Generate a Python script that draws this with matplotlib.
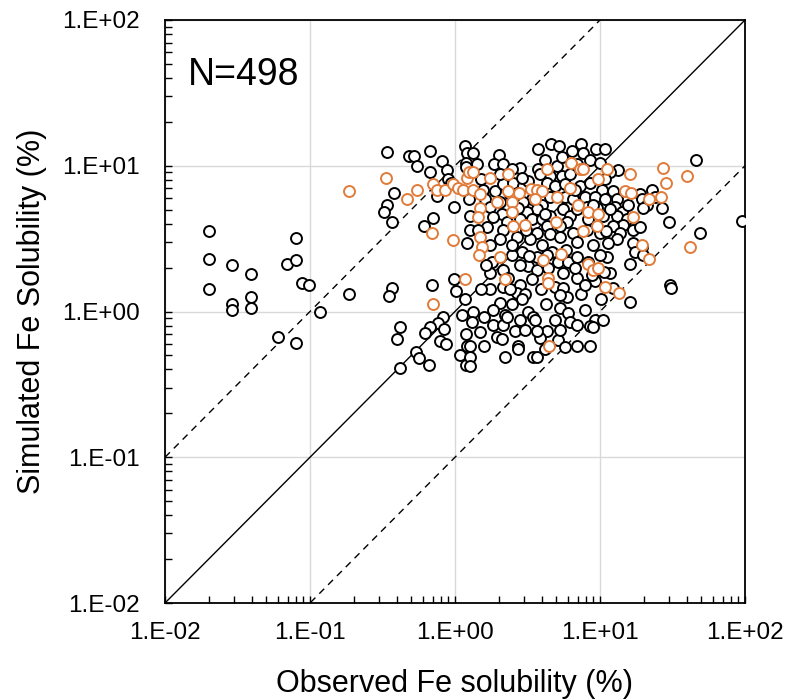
import numpy as np
import matplotlib
matplotlib.use("Agg")
import matplotlib.pyplot as plt
from matplotlib.ticker import FuncFormatter, LogLocator, NullFormatter

plt.rcParams['font.family'] = ['Liberation Sans', 'DejaVu Sans']

# Observed / simulated Fe solubility (%), black markers
obs_black = [
    0.020, 0.020, 0.020, 0.029, 0.029, 0.029, 0.039, 0.039, 0.039, 0.069,
    0.080, 0.080, 0.088, 0.098, 0.117, 0.060, 0.080, 0.186, 0.368, 0.351,
    0.694, 0.984, 1.02, 1.17, 0.418, 0.398, 0.826, 0.763, 0.673, 0.621,
    0.840, 0.788, 0.867, 0.538, 0.565, 0.662, 0.418, 1.08, 1.12, 1.19,
    1.19, 1.21, 0.340, 0.482, 0.521, 0.547, 0.673, 0.813, 0.673, 0.881,
    0.895, 1.17, 1.21, 1.19, 1.19, 0.380, 0.340, 0.324, 0.368, 0.705,
    0.611, 0.984, 1.25, 0.938, 0.751, 1.21, 3.74, 4.59, 5.21, 6.41,
    7.40, 7.63, 9.38, 10.8, 2.01, 1.86, 2.14, 2.81, 2.47, 3.74,
    5.05, 4.52, 5.47, 6.21, 1.42, 1.33, 1.56, 1.89, 1.61, 2.04,
    2.14, 2.51, 2.94, 3.19, 3.40, 2.94, 4.31, 4.90, 5.74, 7.28,
    8.53, 10.3, 7.88, 9.24, 10.8, 5.74, 6.51, 4.52, 3.98, 3.68,
    3.14, 2.72, 2.11, 1.74, 1.83, 2.28, 2.81, 3.40, 3.98, 4.52,
    5.56, 6.21, 6.94, 8.13, 9.54, 10.5, 8.26, 5.92, 4.31, 3.68,
    4.52, 5.30, 6.51, 8.13, 10.0, 2.14, 2.04, 2.68, 3.29, 6.94,
    1.27, 1.27, 45.9, 13.3, 11.7, 12.3, 22.8, 18.9, 19.5, 21.1,
    19.8, 26.8, 23.9, 13.1, 12.7, 14.2, 13.1, 15.4, 14.4, 12.3,
    16.9, 18.9, 13.7, 13.1, 16.9, 29.9, 48.9, 95.4, 19.5, 16.1,
    17.4, 19.8, 11.7, 12.3, 16.1, 30.4, 30.9, 1.80, 1.74, 2.14,
    2.32, 2.90, 2.47, 3.19, 3.68, 4.67, 5.13, 6.01, 6.94, 5.56,
    6.94, 4.90, 5.56, 5.92, 5.30, 6.01, 6.21, 4.90, 4.31, 3.86,
    5.13, 5.74, 6.94, 6.94, 8.26, 9.24, 8.81, 11.2, 9.24, 8.53,
    8.95, 2.81, 2.68, 3.04, 2.90, 3.40, 1.74, 2.04, 1.83, 2.21,
    2.47, 2.14, 3.19, 1.33, 1.31, 1.49, 1.83, 2.14, 2.28, 2.81,
    3.45, 2.59, 3.04, 1.95, 2.11, 3.68, 2.72, 2.72, 2.21, 3.45,
    3.68, 1.27, 1.27, 1.27, 4.31, 3.68,
    1.51, 2.04, 2.90, 4.18, 5.47, 6.94, 8.53, 10.0, 1.66, 2.47,
    3.98, 5.30, 8.95, 11.0, 1.64, 3.24, 3.92, 4.24, 7.40, 7.88,
    10.2, 10.7, 1.51, 1.58, 4.18, 8.53, 10.5, 2.40, 4.18, 6.72,
    8.95, 11.7, 15.6, 10.8, 2.81, 4.38, 6.72, 2.40, 5.30, 3.56,
    7.88, 1.44, 1.74, 3.09, 5.83, 10.0, 1.58, 5.30, 11.4, 3.86,
]
sim_black = [
    3.59, 2.31, 1.42, 2.10, 1.12, 1.03, 1.82, 1.25, 1.06, 2.13,
    3.17, 2.24, 1.56, 1.53, 1.00, 0.67, 0.61, 1.31, 1.46, 1.27,
    1.53, 1.66, 1.39, 1.21, 0.78, 0.65, 0.91, 0.84, 0.78, 0.71,
    0.76, 0.63, 0.60, 0.53, 0.48, 0.43, 0.41, 0.50, 0.95, 0.43,
    0.70, 0.58, 12.5, 11.6, 11.6, 9.89, 12.7, 10.7, 8.99, 9.28,
    8.05, 13.6, 12.3, 10.5, 9.73, 6.55, 5.42, 4.78, 4.08, 4.35,
    3.83, 5.25, 5.96, 7.67, 6.25, 2.97, 13.1, 14.0, 13.6, 12.7,
    14.0, 12.3, 13.1, 13.1, 11.9, 10.2, 10.2, 9.58, 9.43, 9.43,
    9.89, 8.44, 8.44, 8.71, 10.2, 12.3, 6.87, 6.66, 5.87, 5.60,
    7.44, 7.67, 7.21, 7.80, 5.87, 5.68, 7.67, 7.21, 7.44, 7.21,
    7.67, 6.87, 6.15, 6.15, 5.87, 6.06, 5.87, 6.06, 5.42, 5.01,
    4.85, 5.17, 4.63, 5.25, 4.42, 4.14, 4.28, 4.28, 4.28, 4.49,
    5.01, 4.49, 5.01, 5.25, 5.17, 4.49, 4.28, 4.08, 3.83, 3.48,
    3.38, 3.27, 3.48, 3.65, 3.48, 3.65, 3.12, 3.27, 3.12, 3.02,
    4.49, 3.65, 10.9, 9.28, 8.99, 6.66, 6.87, 6.35, 5.87, 5.42,
    5.17, 5.17, 6.06, 5.87, 5.25, 4.85, 4.49, 4.28, 3.95, 3.83,
    3.65, 3.77, 3.48, 3.12, 2.97, 4.08, 3.43, 4.21, 2.79, 2.13,
    2.58, 2.46, 1.85, 1.46, 1.17, 1.53, 1.46, 2.17, 1.85, 1.94,
    1.71, 2.54, 2.46, 2.04, 1.94, 2.58, 2.17, 2.20, 2.38, 1.85,
    1.71, 1.48, 1.46, 1.25, 1.06, 0.98, 0.85, 0.87, 0.73, 0.66,
    0.64, 0.57, 0.58, 0.81, 2.17, 1.61, 1.79, 2.38, 0.88, 0.79,
    0.78, 1.53, 1.35, 1.31, 1.21, 1.66, 1.42, 1.15, 1.03, 0.95,
    1.12, 1.48, 1.00, 1.00, 0.85, 0.72, 0.81, 0.81, 0.91, 0.88,
    0.91, 0.73, 0.75, 0.67, 0.65, 0.73, 0.58, 0.55, 0.49, 0.49,
    0.49, 0.58, 0.49, 0.42, 2.46, 2.35,
    8.05, 8.71, 8.30, 11.0, 11.4, 10.2, 11.0, 10.5, 3.77, 2.88,
    2.88, 3.89, 2.88, 3.54, 2.07, 2.42, 1.42, 1.12, 1.31, 1.03,
    1.21, 1.88, 1.42, 0.58, 0.55, 0.58, 0.88, 6.35, 4.63, 6.87,
    5.42, 5.01, 5.42, 8.05, 2.10, 2.00, 2.00, 1.42, 1.29, 0.88,
    1.53, 3.65, 2.88, 3.65, 2.66, 2.46, 0.91, 0.75, 2.97, 8.71,
]

# orange markers
obs_orange = [
    0.186, 0.334, 0.467, 0.547, 0.705, 0.751, 0.853, 0.969, 1.05, 1.14,
    1.21, 0.694, 0.969, 1.25, 0.705, 1.17, 6.31, 7.28, 7.63, 4.31,
    2.32, 1.74, 1.33, 1.33, 1.49, 2.32, 2.76, 3.34, 3.68, 3.98,
    3.56, 5.05, 6.21, 1.95, 2.47, 1.49, 1.44, 2.47, 2.51, 3.04,
    4.97, 7.05, 8.26, 9.69, 9.54, 7.63, 9.69, 11.2, 1.49, 1.53,
    27.2, 16.1, 39.8, 28.5, 14.9, 16.4, 21.8, 26.4, 16.9, 19.5,
    41.8, 21.8, 13.5, 1.46, 2.04, 2.21, 4.05, 5.38, 4.38, 4.38,
    4.45, 8.26, 8.95, 9.69, 10.8,
]
sim_orange = [
    6.66, 8.18, 5.87, 6.87, 7.44, 6.87, 6.87, 7.55, 7.09, 6.87,
    8.30, 3.48, 3.07, 8.99, 1.12, 1.68, 10.5, 9.43, 9.43, 9.43,
    8.71, 8.30, 9.13, 6.87, 6.35, 6.66, 6.55, 6.98, 6.87, 6.66,
    5.87, 6.15, 7.09, 5.60, 5.60, 5.17, 4.42, 4.78, 3.83, 3.95,
    4.08, 5.42, 4.78, 4.63, 3.83, 3.54, 8.05, 9.43, 3.27, 2.79,
    9.58, 8.71, 8.44, 7.67, 6.66, 6.55, 5.87, 6.06, 4.42, 2.88,
    2.75, 2.31, 1.35, 2.46, 2.38, 1.66, 2.24, 2.50, 1.71, 1.58,
    0.58, 2.13, 1.94, 2.00, 1.48,
]

lims = [1e-2, 1e2]


def exp_fmt(v, pos):
    # Excel style "1.E+02"
    e = int(round(np.log10(v)))
    return f"1.E{'+' if e >= 0 else '-'}{abs(e):02d}"


fig = plt.figure(figsize=(7.88, 6.99), dpi=100)
ax = fig.add_axes([165 / 788, 1 - 603 / 699, 580 / 788, 583 / 699])

ax.set_xscale('log')
ax.set_yscale('log')
ax.set_xlim(lims)
ax.set_ylim(lims)

ax.grid(True, which='major', color='#d9d9d9', linewidth=1.0, zorder=0)

x_line = np.array(lims)
ax.plot(x_line, x_line, color='black', linewidth=1.0, zorder=2)
ax.plot(x_line, x_line * 10, color='black', linewidth=1.0, linestyle=(0, (5, 4)), zorder=2)
ax.plot(x_line, x_line / 10, color='black', linewidth=1.0, linestyle=(0, (5, 4)), zorder=2)

ax.scatter(obs_black, sim_black, s=62, facecolors='white', edgecolors='black',
           linewidths=1.4, zorder=3)
ax.scatter(obs_orange, sim_orange, s=62, facecolors='white', edgecolors='#e07b39',
           linewidths=1.4, zorder=4)

ax.xaxis.set_major_locator(LogLocator(base=10, numticks=10))
ax.yaxis.set_major_locator(LogLocator(base=10, numticks=10))
ax.xaxis.set_minor_locator(LogLocator(base=10, subs=np.arange(2, 10), numticks=10))
ax.yaxis.set_minor_locator(LogLocator(base=10, subs=np.arange(2, 10), numticks=10))
ax.xaxis.set_major_formatter(FuncFormatter(exp_fmt))
ax.yaxis.set_major_formatter(FuncFormatter(exp_fmt))
ax.xaxis.set_minor_formatter(NullFormatter())
ax.yaxis.set_minor_formatter(NullFormatter())
ax.tick_params(which='both', direction='in', length=5, width=1, labelsize=17.5)
ax.tick_params(axis='x', which='major', pad=14)
ax.tick_params(axis='y', which='major', pad=18)

for s in ax.spines.values():
    s.set_linewidth(1.3)
    s.set_color('black')

ax.set_xlabel('Observed Fe solubility (%)', fontsize=22, labelpad=18)
ax.set_ylabel('Simulated Fe Solubility (%)', fontsize=22, labelpad=11)
ax.text(0.04, 0.905, 'N=498', transform=ax.transAxes, fontsize=27, va='center', ha='left')

fig.savefig('out.png', dpi=100)
